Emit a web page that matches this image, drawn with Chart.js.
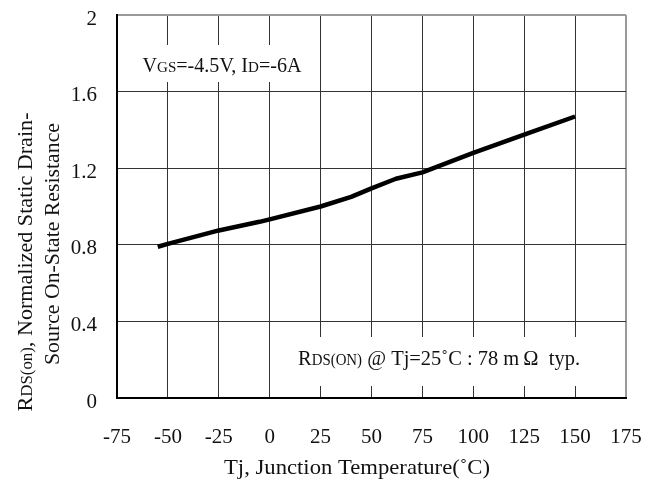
<!DOCTYPE html>
<html>
<head>
<meta charset="utf-8">
<script src="https://cdn.jsdelivr.net/npm/chart.js@4/dist/chart.umd.min.js"></script>
<style>
  html, body { margin: 0; padding: 0; background: #ffffff; }
  #wrap { width: 658px; height: 480px; }
</style>
</head>
<body>
<div id="wrap"><canvas id="c" width="658" height="480"></canvas></div>
<script>
// ---- data ----
const temperatures = [-55, -50, -25, -5, 0, 25, 40, 50, 62, 75, 100, 125, 150];
const rdsNormalized = [0.79, 0.805, 0.875, 0.92, 0.933, 1.0, 1.05, 1.095, 1.145, 1.178, 1.28, 1.375, 1.47];
const xTicks = [-75, -50, -25, 0, 25, 50, 75, 100, 125, 150, 175];
const yTicks = [0, 0.4, 0.8, 1.2, 1.6, 2];
const xTitle = [['Tj, Junction Temperature(˚C)', false]];
const yTitleLine1 = [['R', false], ['DS(on)', true], [', Normalized Static Drain-', false]];
const yTitleLine2 = [['Source On-State Resistance', false]];
const note1 = [['V', false], ['GS', true], ['=-4.5V, I', false], ['D', true], ['=-6A', false]];
const note2 = [['R', false], ['DS(ON)', true], [' @ Tj=25˚C : 78 m\u2009Ω  typ.', false]];

const FONT = '"Liberation Serif", "DejaVu Serif", serif';

function richWidth(ctx, segs, big, small) {
  let w = 0;
  for (const [t, s] of segs) {
    ctx.font = (s ? small : big) + 'px ' + FONT;
    w += ctx.measureText(t).width;
  }
  return w;
}
// draw rich text starting at (0,0) baseline alphabetic, fitted to width
function drawRich(ctx, segs, big, small, targetW) {
  const w = richWidth(ctx, segs, big, small);
  const sx = targetW ? targetW / w : 1;
  ctx.save();
  ctx.scale(sx, 1);
  let x = 0;
  for (const [t, s] of segs) {
    ctx.font = (s ? small : big) + 'px ' + FONT;
    ctx.fillText(t, x, 0);
    x += ctx.measureText(t).width;
  }
  ctx.restore();
}

const annotPlugin = {
  id: 'annot',
  beforeDatasetsDraw(chart) {
    const ctx = chart.ctx;
    const xs = chart.scales.x;
    ctx.save();
    ctx.fillStyle = '#ffffff';
    // white boxes behind the notes (cover grid lines)
    ctx.fillRect(xs.getPixelForValue(-69), 45, xs.getPixelForValue(19) - xs.getPixelForValue(-69), 37);
    ctx.fillRect(xs.getPixelForValue(7), 337, xs.getPixelForValue(162) - xs.getPixelForValue(7), 49);
    ctx.fillStyle = '#111111';
    ctx.textBaseline = 'alphabetic';
    ctx.save();
    ctx.translate(142.5, 72);
    drawRich(ctx, note1, 20, 15, 159);
    ctx.restore();
    ctx.save();
    ctx.translate(298, 365);
    drawRich(ctx, note2, 22, 16, 282);
    ctx.restore();
    ctx.restore();
  },
  afterDraw(chart) {
    const ctx = chart.ctx;
    ctx.save();
    ctx.fillStyle = '#111111';
    ctx.textBaseline = 'alphabetic';
    // y-axis title, two lines
    ctx.save();
    ctx.translate(32, 262 + 299 / 2);
    ctx.rotate(-Math.PI / 2);
    drawRich(ctx, yTitleLine1, 21, 16, 299);
    ctx.restore();
    ctx.save();
    ctx.translate(59, 244 + 242 / 2);
    ctx.rotate(-Math.PI / 2);
    drawRich(ctx, yTitleLine2, 21, 16, 242);
    ctx.restore();
    // x-axis title
    ctx.save();
    ctx.translate(224, 474);
    drawRich(ctx, xTitle, 22, 16, 266);
    ctx.restore();
    ctx.restore();
  }
};

function zeroPad(s) {
  s.paddingTop = 0; s.paddingBottom = 0; s.paddingLeft = 0; s.paddingRight = 0;
}

new Chart(document.getElementById('c'), {
  type: 'line',
  data: {
    datasets: [{
      data: temperatures.map((t, i) => ({ x: t, y: rdsNormalized[i] })),
      borderColor: '#000000',
      borderWidth: 4.5,
      pointRadius: 0,
      tension: 0,
      borderJoinStyle: 'round',
      fill: false
    }]
  },
  options: {
    responsive: false,
    animation: false,
    devicePixelRatio: 1,
    layout: { padding: { left: 0, right: 32, top: 15, bottom: 0 } },
    plugins: { legend: { display: false }, tooltip: { enabled: false } },
    scales: {
      x: {
        type: 'linear',
        min: -75, max: 175,
        afterBuildTicks: s => { s.ticks = xTicks.map(v => ({ value: v })); },
        afterFit: s => { s.height = 82; zeroPad(s); },
        grid: {
          drawTicks: false,
          color: c => (c.tick && c.tick.value === 175) ? '#9a9a9a' : '#333333',
          lineWidth: c => (c.tick && c.tick.value === 175) ? 2 : 1
        },
        border: { display: true, color: '#000000', width: 2 },
        ticks: {
          color: '#111111',
          font: { family: FONT, size: 21 },
          padding: 27,
          maxRotation: 0,
          autoSkip: false
        },
        title: { display: false }
      },
      y: {
        type: 'linear',
        min: 0, max: 2,
        afterBuildTicks: s => { s.ticks = yTicks.map(v => ({ value: v })); },
        afterFit: s => { s.width = 117; zeroPad(s); },
        grid: {
          drawTicks: false,
          color: c => (c.tick && c.tick.value === 2) ? '#9a9a9a' : '#333333',
          lineWidth: c => (c.tick && c.tick.value === 2) ? 2 : 1
        },
        border: { display: true, color: '#000000', width: 2 },
        ticks: {
          color: '#111111',
          font: { family: FONT, size: 21 },
          padding: 20,
          labelOffset: 4,
          callback: v => String(v)
        }
      }
    }
  },
  plugins: [annotPlugin]
});
</script>
</body>
</html>
